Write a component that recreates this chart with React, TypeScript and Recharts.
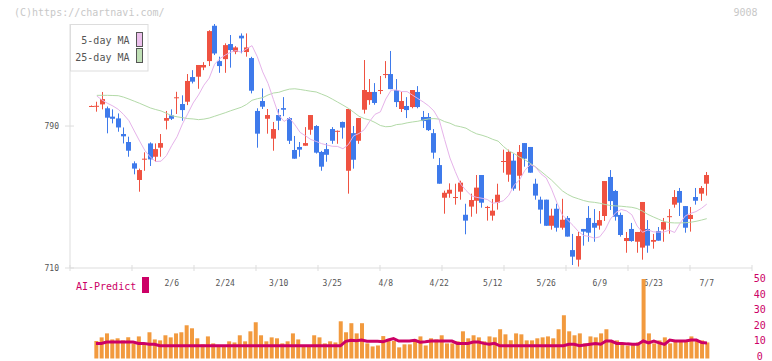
import React from "react";
import { ComposedChart, Bar, Line, XAxis, YAxis } from "recharts";

// trading days shown on the chart (2026)
const dates = [
  "1/16", "1/19", "1/20", "1/21", "1/22", "1/23", "1/26", "1/27", "1/28", "1/29", "1/30",
  "2/2", "2/3", "2/4", "2/5", "2/6", "2/9", "2/10", "2/12", "2/13", "2/16", "2/17", "2/18", "2/19", "2/20",
  "2/24", "2/25", "2/26", "2/27", "3/2", "3/3", "3/4", "3/5", "3/6", "3/9", "3/10", "3/11", "3/12", "3/13",
  "3/16", "3/17", "3/18", "3/19", "3/23", "3/24", "3/25", "3/26", "3/27", "3/30", "3/31", "4/1", "4/2", "4/3",
  "4/6", "4/7", "4/8", "4/9", "4/10", "4/13", "4/14", "4/15", "4/16", "4/17", "4/20", "4/21", "4/22", "4/23",
  "4/24", "4/27", "4/28", "4/30", "5/1", "5/7", "5/8", "5/11", "5/12", "5/13", "5/14", "5/15", "5/18", "5/19",
  "5/20", "5/21", "5/22", "5/25", "5/26", "5/27", "5/28", "5/29", "6/1", "6/2", "6/3", "6/4", "6/5", "6/8",
  "6/9", "6/10", "6/11", "6/12", "6/15", "6/16", "6/17", "6/18", "6/19", "6/22", "6/23", "6/24", "6/25", "6/26",
  "6/29", "6/30", "7/1", "7/2", "7/3", "7/6", "7/7",
];

const dateLabels = ["2/6", "2/24", "3/10", "3/25", "4/8", "4/22", "5/12", "5/26", "6/9", "6/23", "7/7"];
const priceTicks = [710, 790];
const volumeTicks = [0, 10, 20, 30, 40, 50];

const openP = [
  801.3, 801.2, 802.2, 800.0, 795.3, 794.3, 785.5, 781.0, 769.0, 759.6, 771.2, 780.2, 772.7, 777.8, 793.0, 796.0,
  806.0, 802.4, 803.7, 817.6, 817.8, 823.0, 826.6, 846.5, 826.6, 827.7, 836.2, 831.7, 840.9, 831.7, 828.3, 798.5,
  804.1, 794.1, 782.9, 796.2, 800.1, 794.5, 776.5, 778.2, 778.9, 787.9, 790.0, 775.4, 777.0, 788.3, 787.2, 792.3,
  764.8, 786.0, 781.7, 799.2, 804.6, 809.2, 810.0, 819.0, 819.3, 810.3, 799.6, 801.3, 800.7, 809.2, 795.1, 795.1,
  786.0, 768.0, 749.6, 751.9, 749.8, 753.0, 740.0, 744.6, 747.9, 762.4, 744.2, 739.5, 746.8, 770.0, 762.6, 770.5,
  762.0, 780.4, 778.2, 757.5, 748.5, 748.5, 733.8, 743.4, 732.7, 738.2, 720.1, 714.7, 732.0, 738.2, 735.4, 733.9,
  739.3, 761.3, 753.4, 739.9, 725.2, 732.0, 724.8, 721.5, 732.0, 724.8, 730.8, 731.6, 739.0, 745.7, 753.4, 744.9,
  737.6, 750.0, 751.9, 757.5,
];
const highP = [
  801.6, 803.7, 809.2, 801.0, 799.4, 797.1, 789.2, 784.0, 770.1, 766.0, 775.2, 780.8, 780.2, 785.5, 798.5, 799.4,
  809.3, 807.3, 819.3, 821.5, 824.4, 826.0, 844.0, 847.5, 829.1, 836.6, 841.3, 835.0, 842.2, 842.2, 829.0, 800.0,
  811.2, 799.6, 792.3, 799.6, 806.3, 795.0, 784.4, 781.0, 789.4, 796.2, 790.5, 776.0, 780.4, 789.4, 787.5, 792.5,
  799.6, 790.0, 794.5, 827.2, 816.5, 814.2, 818.2, 826.6, 832.3, 816.5, 809.2, 806.3, 810.3, 812.5, 798.5, 797.3,
  788.3, 772.0, 753.6, 757.7, 757.5, 759.2, 746.2, 751.9, 762.4, 762.4, 745.0, 748.9, 757.5, 776.7, 776.7, 774.4,
  779.3, 780.4, 778.2, 760.3, 750.2, 748.5, 743.4, 746.2, 749.0, 739.3, 729.2, 730.3, 732.0, 744.9, 743.2, 742.1,
  759.0, 765.2, 754.0, 741.2, 730.3, 735.4, 730.3, 747.2, 737.0, 729.2, 733.1, 738.2, 743.2, 753.9, 755.1, 744.9,
  744.4, 755.1, 756.2, 764.1,
];
const lowP = [
  801.0, 798.1, 799.4, 785.9, 791.5, 786.8, 780.2, 772.7, 762.8, 753.0, 764.8, 767.5, 769.9, 772.7, 788.1, 793.4,
  796.8, 793.0, 801.8, 814.0, 811.0, 821.5, 823.8, 830.0, 820.0, 820.0, 822.9, 830.5, 831.0, 829.1, 808.4, 777.8,
  799.6, 785.7, 776.1, 787.7, 795.6, 779.9, 771.6, 772.7, 778.9, 785.1, 774.5, 764.8, 769.9, 780.0, 780.0, 782.9,
  751.9, 766.0, 780.0, 797.0, 802.0, 802.0, 808.0, 817.0, 810.8, 800.7, 797.9, 794.5, 800.0, 800.0, 788.9, 787.2,
  771.6, 757.5, 740.6, 749.6, 745.7, 748.5, 729.0, 738.9, 740.6, 744.0, 736.7, 736.7, 742.9, 763.7, 758.6, 753.6,
  753.6, 767.1, 763.7, 748.5, 735.0, 733.8, 731.6, 730.5, 731.6, 727.7, 711.7, 710.8, 722.6, 724.8, 724.8, 731.6,
  736.5, 742.7, 736.7, 727.7, 718.6, 724.8, 718.6, 714.7, 718.6, 720.9, 725.4, 724.8, 729.3, 744.0, 739.3, 729.9,
  730.5, 745.7, 747.9, 750.8,
];
const closeP = [
  801.3, 801.4, 805.2, 794.7, 794.1, 789.2, 784.2, 776.1, 766.0, 765.2, 771.6, 771.2, 777.0, 780.4, 794.5, 794.1,
  806.2, 799.0, 815.4, 815.0, 824.4, 824.4, 843.5, 830.9, 823.8, 835.6, 832.8, 834.3, 839.4, 834.3, 809.9, 785.7,
  800.9, 796.2, 788.3, 793.0, 799.2, 781.7, 771.6, 776.7, 780.4, 796.2, 775.0, 767.1, 773.8, 781.7, 787.3, 789.1,
  799.6, 771.0, 794.5, 810.3, 809.2, 803.0, 810.3, 819.3, 810.8, 803.5, 804.1, 799.0, 810.3, 800.7, 792.8, 787.7,
  775.0, 757.5, 752.4, 754.1, 750.0, 758.1, 736.7, 748.3, 755.3, 746.8, 744.4, 742.3, 751.3, 770.3, 775.4, 754.7,
  775.4, 771.6, 763.7, 750.8, 742.9, 733.8, 739.5, 732.7, 737.2, 727.7, 716.4, 728.0, 730.5, 729.9, 732.7, 737.0,
  759.0, 747.7, 738.9, 728.6, 726.9, 725.2, 730.3, 747.2, 722.6, 725.8, 725.4, 735.9, 739.2, 750.0, 746.8, 732.7,
  739.9, 747.9, 755.1, 762.4,
];

const ma5 = [
  null, 806.9, 804.6, 802.8, 801.3, 799.4, 796.5, 793.0, 787.2, 781.5, 776.1, 772.5, 770.0, 770.2, 773.3, 779.0,
  784.0, 791.2, 797.0, 803.0, 807.5, 813.0, 817.0, 824.8, 828.0, 830.0, 831.6, 832.5, 831.6, 833.5, 835.3, 829.0,
  820.5, 814.0, 805.0, 796.2, 792.6, 794.5, 790.8, 786.4, 784.5, 782.4, 781.3, 780.1, 779.3, 778.6, 778.5, 777.2,
  779.5, 784.5, 785.8, 788.0, 792.7, 796.6, 798.0, 805.2, 810.2, 810.3, 809.4, 809.4, 807.4, 805.5, 803.6, 801.4,
  798.5, 793.4, 782.4, 772.0, 764.3, 757.3, 753.7, 750.7, 749.8, 749.3, 748.6, 746.5, 747.0, 747.9, 751.0, 756.7,
  759.6, 765.0, 768.3, 766.9, 763.1, 760.7, 754.4, 746.8, 739.9, 737.0, 734.0, 730.6, 728.3, 727.8, 726.8, 727.6,
  731.5, 737.6, 741.2, 743.0, 742.2, 740.0, 733.6, 730.1, 731.5, 730.4, 730.2, 730.3, 731.3, 730.0, 735.2, 739.4,
  740.8, 741.8, 743.6, 746.0,
];
const ma25 = [
  null, 807.3, 807.3, 807.3, 807.2, 807.1, 806.3, 805.2, 804.0, 802.8, 801.5, 800.2, 799.3, 798.5, 797.2, 795.8,
  795.2, 794.7, 794.2, 794.0, 793.6, 793.9, 794.5, 795.5, 796.5, 797.5, 798.6, 799.6, 800.6, 802.2, 804.5, 805.4,
  806.0, 807.5, 808.6, 809.0, 810.0, 810.8, 811.0, 810.6, 810.1, 809.6, 809.2, 808.0, 806.8, 805.2, 803.5, 801.8,
  800.0, 797.8, 795.5, 794.2, 793.4, 792.0, 790.3, 789.6, 789.8, 790.8, 791.1, 791.8, 792.3, 792.7, 793.4, 794.0,
  794.2, 793.9, 792.5, 791.6, 790.2, 789.6, 788.8, 787.0, 785.6, 784.8, 783.8, 782.5, 781.5, 778.5, 776.0, 774.5,
  772.5, 771.0, 769.0, 767.0, 764.5, 762.0, 759.5, 756.5, 753.5, 751.5, 750.0, 749.0, 748.0, 747.3, 747.0, 746.5,
  745.8, 745.2, 745.0, 744.8, 744.5, 744.2, 743.5, 742.0, 740.2, 738.8, 737.5, 736.2, 735.6, 735.4, 735.4, 735.5,
  735.8, 736.3, 737.0, 737.8,
];

const volume = [
  11.0, 13.3, 15.8, 12.0, 12.7, 11.4, 13.3, 9.5, 13.9, 8.9, 16.5, 12.0, 11.4, 14.6, 13.3, 15.8,
  16.5, 20.9, 19.0, 12.7, 8.9, 13.9, 9.5, 8.2, 8.2, 10.8, 10.1, 14.6, 10.8, 17.1, 22.8, 14.6,
  10.8, 13.3, 12.7, 9.5, 10.8, 15.8, 12.0, 8.2, 8.2, 14.6, 13.3, 9.5, 10.8, 10.1, 23.4, 16.5,
  22.2, 15.8, 22.2, 9.5, 7.6, 8.2, 14.1, 12.0, 11.0, 7.0, 8.9, 8.9, 12.0, 13.9, 8.2, 12.7,
  12.0, 14.6, 9.5, 9.5, 10.8, 17.1, 12.7, 14.6, 13.3, 10.8, 13.9, 13.3, 18.4, 15.2, 11.4, 15.8,
  15.2, 11.4, 11.4, 12.7, 13.3, 13.9, 12.7, 18.4, 27.2, 17.1, 14.6, 15.8, 9.5, 13.9, 13.3, 15.8,
  18.4, 10.8, 11.4, 9.5, 8.2, 9.5, 10.1, 50.0, 15.8, 9.5, 11.4, 13.3, 9.5, 11.4, 10.8, 10.8,
  13.9, 11.4, 11.4, 10.1,
];
const aiPredict = [
  9.5, 9.5, 10.3, 10.3, 10.3, 10.3, 10.3, 10.3, 9.5, 9.5, 8.9, 8.9, 8.0, 8.0, 8.0, 8.0,
  8.0, 8.0, 8.0, 8.0, 8.0, 8.0, 8.0, 8.0, 8.0, 8.0, 8.0, 8.0, 8.0, 8.0, 8.0, 8.0,
  8.0, 8.0, 8.0, 8.0, 8.0, 8.0, 8.0, 8.0, 8.0, 8.0, 8.0, 8.0, 8.0, 8.0, 8.0, 10.8,
  11.4, 11.2, 11.6, 10.8, 10.8, 10.8, 10.5, 11.6, 12.5, 11.0, 11.0, 11.0, 11.4, 10.3, 10.5, 11.0,
  11.0, 11.0, 11.0, 11.0, 9.5, 9.5, 9.5, 10.3, 10.3, 9.5, 8.9, 9.5, 8.0, 8.0, 8.0, 8.0,
  8.0, 8.0, 8.0, 8.0, 8.0, 8.0, 8.0, 8.0, 8.0, 8.9, 8.9, 8.0, 8.5, 9.0, 9.5, 9.0,
  11.0, 11.0, 9.5, 9.5, 9.2, 9.0, 9.0, 11.0, 9.8, 11.0, 9.8, 8.9, 11.6, 11.0, 11.0, 11.0,
  11.6, 11.6, 10.0, 9.8,
];

const UP = "#ef5241";
const DOWN = "#3e7aeb";
const MA5_COLOR = "#e6b3ea";
const MA25_COLOR = "#b3daa8";
const VOL_COLOR = "#f29a3e";
const AI_COLOR = "#cc0066";
const AXIS = "#dddddd";
const MONO = '"DejaVu Sans Mono", "Liberation Mono", monospace';

const priceData = dates.map((date, i) => ({
  i,
  date,
  open: openP[i],
  high: highP[i],
  low: lowP[i],
  close: closeP[i],
  range: [lowP[i], highP[i]],
  ma5: ma5[i],
  ma25: ma25[i],
}));

const volData = dates.map((date, i) => ({ i, date, vol: volume[i], ai: aiPredict[i] }));

// x scales: candles run 91.5 -> 706.6, volume/AI 96 -> 707, plot 70 -> 752
const PLOT_W = 682;
const priceMin = -21.5 / 5.35;
const priceMax = priceMin + PLOT_W / 5.35;
const volStep = (707 - 96) / 115;
const volMin = -26 / volStep;
const volMax = volMin + PLOT_W / volStep;

const frameTicks = Array.from({ length: 12 }, (_, k) => priceMin + (k * (priceMax - priceMin)) / 11);
const labelIdx = dateLabels.map((d) => dates.indexOf(d));
const xTicks = [...frameTicks, ...labelIdx];

function Candle(props: any) {
  const { x, y, width, height, payload } = props;
  const { open, high, low, close } = payload;
  const top = Math.min(y, y + height);
  const bot = Math.max(y, y + height);
  const ppu = (bot - top) / (high - low || 1);
  const color = close >= open ? UP : DOWN;
  const left = Math.round(x + width / 2 - 2.5);
  const bTop = top + (high - Math.max(open, close)) * ppu;
  const bBot = top + (high - Math.min(open, close)) * ppu;
  return (
    <g>
      <rect x={left + 2} y={top} width={1} height={Math.max(1, bot - top)} fill={color} />
      <rect x={left} y={bTop} width={5} height={Math.max(1, bBot - bTop)} fill={color} />
    </g>
  );
}

function XTick(props: any) {
  const { x, y, payload } = props;
  const v = payload.value;
  if (Number.isInteger(v)) {
    return (
      <text x={x} y={y + 17.5} textAnchor="middle" fontSize={8} fill="#555" fontFamily={MONO}>
        {dates[v]}
      </text>
    );
  }
  return <line x1={x} x2={x} y1={y - 3} y2={y + 3} stroke={AXIS} />;
}

function YTick(props: any) {
  const { x, y, payload } = props;
  return (
    <g>
      <line x1={x - 5} x2={x + 4} y1={y} y2={y} stroke={AXIS} />
      <text x={x - 11} y={y + 3} textAnchor="end" fontSize={8} fill="#555" fontFamily={MONO}>
        {payload.value}
      </text>
    </g>
  );
}

function VolTick(props: any) {
  const { x, y, payload } = props;
  // labels sit slightly above their value, more so near zero
  const dy = 2.9 - (50 - payload.value) * 0.028;
  return (
    <text x={x + 7.7} y={y + dy} textAnchor="middle" fontSize={10} fill={AI_COLOR} fontFamily={MONO}>
      {payload.value}
    </text>
  );
}

export default function App() {
  return (
    <div
      style={{
        position: "absolute",
        left: 0,
        top: 0,
        width: 772,
        height: 361,
        overflow: "hidden",
        background: "#fff",
        fontFamily: MONO,
      }}
    >
      <div style={{ position: "absolute", left: 0, top: 0 }}>
        <ComposedChart width={772} height={300} data={priceData} margin={{ top: 24, right: 20, bottom: 0, left: 0 }}>
          <XAxis
            dataKey="i"
            type="number"
            domain={[priceMin, priceMax]}
            ticks={xTicks}
            interval={0}
            tick={<XTick />}
            tickLine={false}
            tickSize={0}
            tickMargin={0}
            height={32}
            axisLine={{ stroke: AXIS }}
            allowDataOverflow
          />
          <YAxis
            type="number"
            domain={[710, 847.5]}
            ticks={priceTicks}
            interval={0}
            width={70}
            tick={<YTick />}
            tickLine={false}
            tickSize={0}
            tickMargin={0}
            axisLine={{ stroke: AXIS }}
            allowDataOverflow
          />
          <Line dataKey="ma25" stroke={MA25_COLOR} strokeWidth={1} dot={false} isAnimationActive={false} />
          <Line dataKey="ma5" stroke={MA5_COLOR} strokeWidth={1} dot={false} isAnimationActive={false} />
          <Bar dataKey="range" barSize={5} shape={<Candle />} isAnimationActive={false} />
        </ComposedChart>
      </div>

      <div style={{ position: "absolute", left: 0, top: 270 }}>
        <ComposedChart width={772} height={91} data={volData} margin={{ top: 9, right: 0, bottom: 2.5, left: 70 }}>
          <XAxis dataKey="i" type="number" domain={[volMin, volMax]} hide allowDataOverflow />
          <YAxis
            orientation="right"
            type="number"
            domain={[0, 50]}
            ticks={volumeTicks}
            interval={0}
            width={20}
            tick={<VolTick />}
            tickLine={false}
            tickSize={0}
            tickMargin={0}
            axisLine={false}
          />
          <Bar dataKey="vol" barSize={4} fill={VOL_COLOR} isAnimationActive={false} />
          <Line dataKey="ai" stroke={AI_COLOR} strokeWidth={3} dot={false} isAnimationActive={false} />
        </ComposedChart>
      </div>

      <svg
        width={772}
        height={361}
        style={{ position: "absolute", left: 0, top: 0, pointerEvents: "none" }}
        fontFamily={MONO}
      >
        <text x={14} y={16} fontSize={10} fill="#c8c8c8">
          (C)https://chartnavi.com/
        </text>
        <text x={757.5} y={16} fontSize={10} fill="#c8c8c8" textAnchor="end">
          9008
        </text>
        <rect x={70.5} y={24.5} width={77.5} height={46.5} fill="#fff" stroke={AXIS} />
        <text x={129.5} y={43.5} fontSize={10} fill="#555" textAnchor="end">
          5-day MA
        </text>
        <rect x={136.5} y={32.5} width={6} height={14} fill="#ecc0ec" stroke="#555" />
        <text x={129.5} y={60.5} fontSize={10} fill="#555" textAnchor="end">
          25-day MA
        </text>
        <rect x={136.5} y={48.5} width={6} height={14} fill="#c0e0b6" stroke="#555" />
        <text x={76} y={289.5} fontSize={10} fill={AI_COLOR}>
          AI-Predict
        </text>
        <rect x={142} y={277} width={7} height={16} fill={AI_COLOR} />
      </svg>
    </div>
  );
}
